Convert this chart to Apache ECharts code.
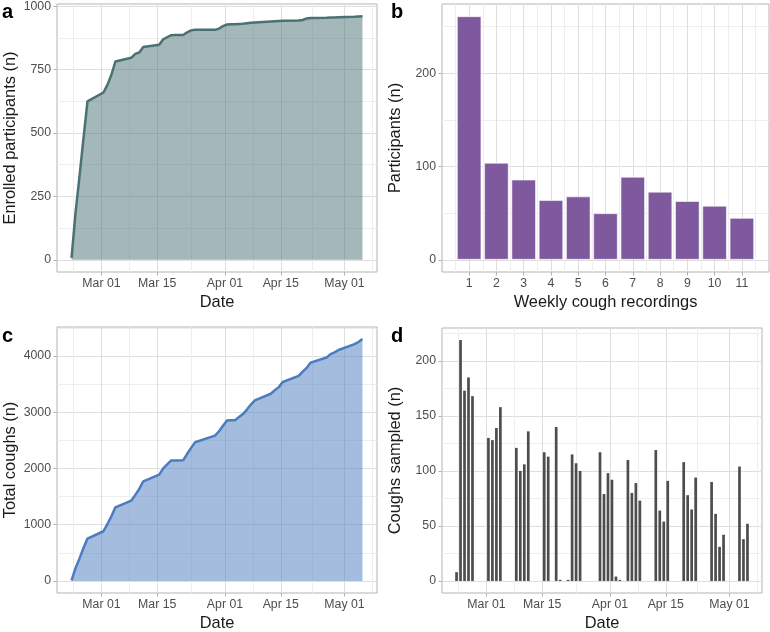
<!DOCTYPE html>
<html>
<head>
<meta charset="utf-8">
<script src="https://cdn.jsdelivr.net/npm/echarts@6/dist/echarts.min.js"></script>
<style>
  html, body { margin: 0; padding: 0; background: #fff; }
  #chart { width: 770px; height: 632px; }
</style>
</head>
<body>
<div id="chart"></div>
<script>
// recording days (all panels a, c, d share them)
const recordDates = [
  '2020-02-22', '2020-02-23', '2020-02-24', '2020-02-25', '2020-02-26',
  '2020-03-01', '2020-03-02', '2020-03-03', '2020-03-04',
  '2020-03-08', '2020-03-09', '2020-03-10', '2020-03-11',
  '2020-03-15', '2020-03-16', '2020-03-18', '2020-03-19', '2020-03-21',
  '2020-03-22', '2020-03-23', '2020-03-24',
  '2020-03-29', '2020-03-30', '2020-03-31', '2020-04-01', '2020-04-02', '2020-04-03',
  '2020-04-05', '2020-04-06', '2020-04-07', '2020-04-08',
  '2020-04-12', '2020-04-13', '2020-04-14', '2020-04-15',
  '2020-04-19', '2020-04-20', '2020-04-21', '2020-04-22',
  '2020-04-26', '2020-04-27', '2020-04-28', '2020-04-29',
  '2020-05-03', '2020-05-04', '2020-05-05'
]
// a
const enrolled = [
  8, 185, 330, 480, 625,
  660, 690, 730, 782,
  797, 812, 818, 839,
  848, 870, 886, 887, 887,
  897, 905, 907,
  907, 912, 922, 928, 929, 929,
  931, 933, 935, 936,
  940, 941, 942, 943,
  944, 946, 952, 954,
  955, 956, 956, 957,
  959, 960, 961
]
// b
const weeklyRecordings = [1, 2, 3, 4, 5, 6, 7, 8, 9, 10, 11]
const participants = [261, 104, 86, 64, 68, 50, 89, 73, 63, 58, 45]
// c
const totalCoughs = [
  8, 227, 400, 585, 753,
  883, 1011, 1150, 1308,
  1429, 1529, 1635, 1771,
  1888, 2001, 2141, 2142, 2143,
  2258, 2365, 2465,
  2582, 2661, 2759, 2851, 2855, 2856,
  2966, 3046, 3135, 3208,
  3327, 3391, 3445, 3536,
  3644, 3722, 3787, 3881,
  3971, 4032, 4063, 4105,
  4209, 4247, 4299
]
// d
const coughsSampled = [
  8, 219, 173, 185, 168,
  130, 128, 139, 158,
  121, 100, 106, 136,
  117, 113, 140, 1, 1,
  115, 107, 100,
  117, 79, 98, 92, 4, 1,
  110, 80, 89, 73,
  119, 64, 54, 91,
  108, 78, 65, 94,
  90, 61, 31, 42,
  104, 38, 52
]
// tick labels
const dateTicks = ['2020-03-01', '2020-03-15', '2020-04-01', '2020-04-15', '2020-05-01']
const dateMinor = ['2020-02-23', '2020-03-08', '2020-03-23T12:00:00', '2020-04-08', '2020-04-23', '2020-05-08']
const enrolledTicks = [0, 250, 500, 750, 1000]
const enrolledMinor = [125, 375, 625, 875]
const partTicks = [0, 100, 200]
const partMinor = [50, 150, 250]
const recMinor = [0.5, 1.5, 2.5, 3.5, 4.5, 5.5, 6.5, 7.5, 8.5, 9.5, 10.5, 11.5]
const totalTicks = [0, 1000, 2000, 3000, 4000]
const totalMinor = [500, 1500, 2500, 3500, 4500]
const sampledTicks = [0, 50, 100, 150, 200]
const sampledMinor = [25, 75, 125, 175, 225]

const months = ['Jan', 'Feb', 'Mar', 'Apr', 'May', 'Jun', 'Jul', 'Aug', 'Sep', 'Oct', 'Nov', 'Dec']
const ts = (s) => echarts.time.parse(s).getTime()
const DAY = 864e5
const xMin = ts('2020-03-01') - 11.15 * DAY
const xMax = ts('2020-03-01') + 69.15 * DAY
const atNoon = (d) => ts(d + 'T12:00:00')

const FONT = 'Liberation Sans, Arial, sans-serif'
const tickText = { color: '#4d4d4d', fontSize: 12.3, fontFamily: FONT }
const nameText = { color: '#1a1a1a', fontSize: 16.4, fontFamily: FONT }

let myCharts = echarts.init(document.getElementById('chart'))

const grids = [
  { left: 57, top: 4, width: 320, height: 268 },
  { left: 442, top: 4, width: 327, height: 268 },
  { left: 57, top: 327, width: 320, height: 268 },
  { left: 442, top: 328, width: 320, height: 267 },
]

const xAxes = []
const yAxes = []

// one main axis + one axis that only draws the minor grid lines
function addAxes(list, gridIndex, cfg, isX) {
  const common = {
    gridIndex,
    type: 'value',
    min: cfg.min,
    max: cfg.max,
    axisLine: { show: false, onZero: false },
  }
  list.push(Object.assign({}, common, {
    name: cfg.name,
    nameLocation: 'middle',
    nameGap: isX ? 22 : 39,
    nameTextStyle: nameText,
    axisTick: { show: true, length: 3.5, customValues: cfg.ticks, lineStyle: { color: '#b3b3b3' } },
    axisLabel: Object.assign({ customValues: cfg.ticks, margin: 6, formatter: cfg.formatter || ((v) => String(v)) }, tickText),
    splitLine: { show: true, lineStyle: { color: '#dedede', width: 1 } },
  }))
  list.push(Object.assign({}, common, {
    axisTick: { show: false, customValues: cfg.minor },
    axisLabel: { show: false },
    splitLine: { show: true, lineStyle: { color: '#eeeeee', width: 1 } },
  }))
}

const dateFmt = (v) => {
  const d = new Date(v)
  return months[d.getMonth()] + ' ' + String(d.getDate()).padStart(2, '0')
}
const dateAxis = {
  min: xMin, max: xMax, name: 'Date',
  ticks: dateTicks.map(ts), minor: dateMinor.map(ts), formatter: dateFmt,
}

// a
addAxes(xAxes, 0, dateAxis, true)
addAxes(yAxes, 0, { min: -48, max: 1009, ticks: enrolledTicks, minor: enrolledMinor, name: 'Enrolled participants (n)' }, false)
// b
addAxes(xAxes, 1, { min: 0.005, max: 11.995, ticks: weeklyRecordings, minor: recMinor, name: 'Weekly cough recordings' }, true)
addAxes(yAxes, 1, { min: -13.05, max: 274.05, ticks: partTicks, minor: partMinor, name: 'Participants (n)' }, false)
// c
addAxes(xAxes, 2, dateAxis, true)
addAxes(yAxes, 2, { min: -215, max: 4514, ticks: totalTicks, minor: totalMinor, name: 'Total coughs (n)' }, false)
// d
addAxes(xAxes, 3, dateAxis, true)
addAxes(yAxes, 3, { min: -10.95, max: 229.95, ticks: sampledTicks, minor: sampledMinor, name: 'Coughs sampled (n)' }, false)

const panelLabel = (text, left, top) => ({
  text, left, top, padding: 0,
  textStyle: { fontSize: 20, fontWeight: 'bold', color: '#000', fontFamily: FONT },
})

myCharts.setOption({
  animation: false,
  backgroundColor: '#fff',
  title: [
    panelLabel('a', 2, 2),
    panelLabel('b', 391, 2),
    panelLabel('c', 2, 326),
    panelLabel('d', 391, 326),
  ],
  grid: grids.map((g) => Object.assign({ show: true, borderColor: '#b3b3b3', borderWidth: 1, backgroundColor: 'transparent' }, g)),
  xAxis: xAxes,
  yAxis: yAxes,
  series: [
    {
      type: 'line',
      xAxisIndex: 0,
      yAxisIndex: 0,
      data: recordDates.map((d, i) => [atNoon(d), enrolled[i]]),
      symbol: 'none',
      lineStyle: { color: '#4a7173', width: 2.5 },
      areaStyle: { color: '#4a7173', opacity: 0.5 },
    },
    {
      type: 'bar',
      xAxisIndex: 2,
      yAxisIndex: 2,
      data: weeklyRecordings.map((w, i) => [w, participants[i]]),
      barWidth: 24.6,
      itemStyle: { color: '#7f599e', borderColor: 'rgba(255,255,255,0.55)', borderWidth: 1 },
    },
    {
      type: 'line',
      xAxisIndex: 4,
      yAxisIndex: 4,
      data: recordDates.map((d, i) => [atNoon(d), totalCoughs[i]]),
      symbol: 'none',
      lineStyle: { color: '#4a7cbf', width: 2.5 },
      areaStyle: { color: '#4a7cbf', opacity: 0.5 },
    },
    {
      type: 'bar',
      xAxisIndex: 6,
      yAxisIndex: 6,
      data: recordDates.map((d, i) => [atNoon(d), coughsSampled[i]]),
      barWidth: 2.7,
      itemStyle: { color: '#4d4d4d' },
    },
  ],
})
</script>
</body>
</html>
